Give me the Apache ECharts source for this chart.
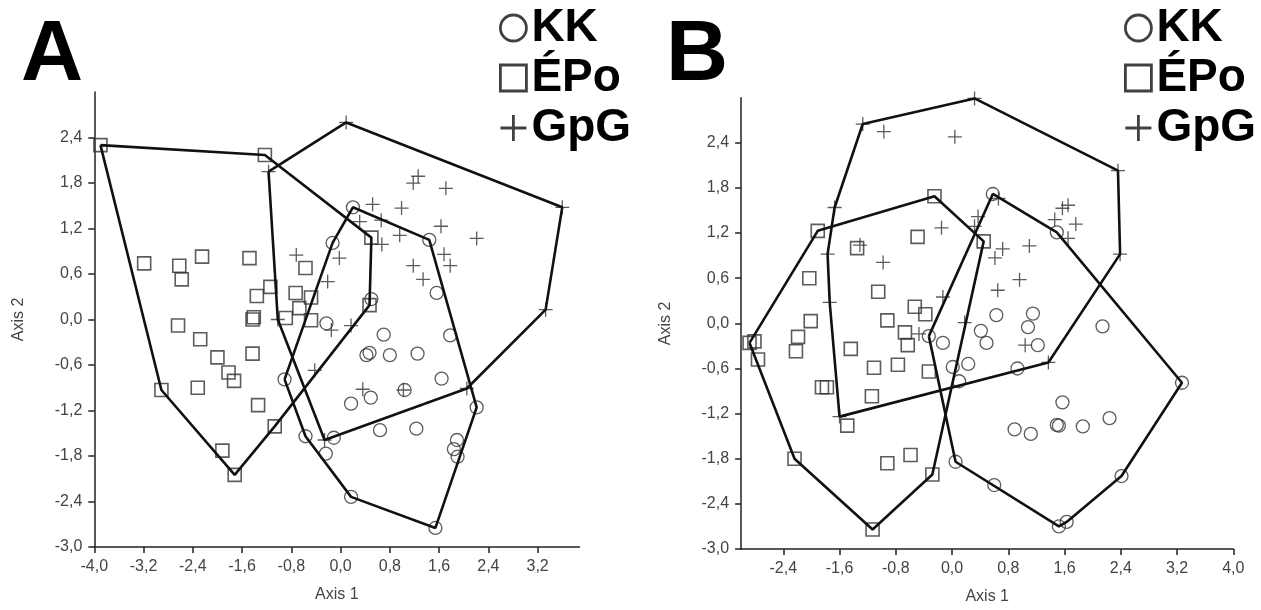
<!DOCTYPE html>
<html>
<head>
<meta charset="utf-8">
<script src="https://cdn.jsdelivr.net/npm/echarts@6/dist/echarts.min.js"></script>
<style>
  html, body { margin: 0; padding: 0; background: #fff; }
  #main { width: 1261px; height: 610px; }
</style>
</head>
<body>
<div id="main"></div>
<script>
// 刻度
var xTicksA = [-4.0, -3.2, -2.4, -1.6, -0.8, 0.0, 0.8, 1.6, 2.4, 3.2];
var xTicksB = [-2.4, -1.6, -0.8, 0.0, 0.8, 1.6, 2.4, 3.2, 4.0];
var yTicks = [-3.0, -2.4, -1.8, -1.2, -0.6, 0.0, 0.6, 1.2, 1.8, 2.4];
var groups = ['KK', 'ÉPo', 'GpG'];

// 图 A
var kkA = [
  [0.20, 1.48], [-0.13, 1.01], [1.44, 1.05], [1.56, 0.35], [0.50, 0.27], [-0.23, -0.05], [0.70, -0.20], [1.78, -0.21],
  [0.42, -0.47], [0.47, -0.44], [0.80, -0.47], [1.25, -0.45], [1.64, -0.78], [-0.91, -0.79], [0.49, -1.03], [0.17, -1.11],
  [1.04, -0.93], [2.21, -1.16], [0.64, -1.46], [1.23, -1.44], [-0.57, -1.54], [-0.11, -1.56], [-0.24, -1.77],
  [1.89, -1.59], [1.84, -1.71], [1.90, -1.81], [0.17, -2.34], [1.54, -2.75]
];
var epoA = [
  [-3.90, 2.30], [-1.23, 2.17], [-3.19, 0.74], [-2.62, 0.71], [-2.58, 0.53], [-2.25, 0.83], [-1.48, 0.81], [-0.57, 0.68],
  [-1.14, 0.43], [-1.36, 0.31], [-0.73, 0.35], [-0.48, 0.29], [-0.67, 0.15], [-1.41, 0.03], [-1.43, 0.00], [-0.89, 0.02],
  [-0.48, -0.01], [0.50, 1.08], [0.47, 0.19], [-2.64, -0.08], [-2.28, -0.26], [-2.00, -0.50], [-1.82, -0.70], [-1.73, -0.81],
  [-1.43, -0.45], [-2.91, -0.93], [-2.32, -0.90], [-1.34, -1.13], [-1.07, -1.41], [-1.92, -1.73], [-1.72, -2.05]
];
var gpgA = [
  [0.09, 2.60], [-1.17, 1.95], [3.60, 1.48], [3.33, 0.13], [1.26, 1.89], [1.18, 1.80], [1.71, 1.73], [0.52, 1.52], [0.99, 1.47],
  [0.31, 1.29], [0.66, 1.31], [0.96, 1.11], [0.67, 0.99], [1.63, 1.23], [2.21, 1.07], [1.68, 0.86], [1.78, 0.71], [1.18, 0.71],
  [1.34, 0.53], [-0.72, 0.85], [-0.02, 0.81], [-0.21, 0.50], [-1.02, 0.00], [-0.15, -0.14], [0.17, -0.08], [-0.42, -0.67],
  [0.36, -0.92], [1.02, -0.93], [2.05, -0.91], [-0.26, -1.59]
];

// 图 B
var kkB = [
  [0.58, 1.72], [1.49, 1.21], [2.14, -0.04], [0.63, 0.11], [1.15, 0.13], [1.08, -0.05], [0.41, -0.10], [0.49, -0.26],
  [-0.13, -0.26], [-0.33, -0.17], [1.22, -0.29], [0.23, -0.54], [0.01, -0.58], [0.10, -0.77], [0.93, -0.60], [3.27, -0.79],
  [1.57, -1.05], [0.89, -1.41], [1.12, -1.47], [1.49, -1.35], [1.52, -1.36], [1.86, -1.37], [2.24, -1.26], [0.05, -1.84],
  [0.60, -2.15], [1.52, -2.70], [1.63, -2.64], [2.41, -2.03]
];
var epoB = [
  [-1.91, 1.23], [-0.25, 1.69], [-0.49, 1.15], [0.45, 1.09], [-1.35, 1.00], [-2.03, 0.60], [-1.05, 0.42], [-2.01, 0.03],
  [-0.92, 0.04], [-0.53, 0.22], [-0.38, 0.12], [-0.67, -0.12], [-2.19, -0.18], [-2.88, -0.26], [-2.81, -0.24], [-2.76, -0.48],
  [-2.22, -0.37], [-1.44, -0.34], [-0.63, -0.29], [-1.11, -0.59], [-0.77, -0.55], [-0.33, -0.64], [-1.85, -0.85], [-1.78, -0.85],
  [-1.14, -0.97], [-1.49, -1.36], [-2.24, -1.80], [-1.13, -2.74], [-0.92, -1.86], [-0.59, -1.75], [-0.28, -2.01]
];
var gpgB = [
  [-1.27, 2.65], [-0.97, 2.55], [0.04, 2.48], [0.32, 2.99], [2.36, 2.03], [2.39, 0.92], [-1.67, 1.54], [-1.77, 0.92],
  [-1.74, 0.28], [-0.15, 1.27], [-1.31, 1.04], [-0.98, 0.81], [-0.13, 0.35], [-0.47, -0.14], [0.66, 1.66], [0.37, 1.42],
  [0.32, 1.29], [0.72, 0.99], [0.61, 0.87], [1.10, 1.03], [0.96, 0.58], [0.65, 0.44], [0.18, 0.01], [1.04, -0.29],
  [1.37, -0.52], [-1.60, -1.24], [1.65, 1.57], [1.57, 1.53], [1.46, 1.38], [1.76, 1.32], [1.65, 1.13]
];

var FONT = 'Liberation Sans, Arial, sans-serif';
var plusPath = 'path://M0,7L14,7M7,0L7,14';
var symbols = { 'KK': 'circle', 'ÉPo': 'rect', 'GpG': plusPath };

// 凸包 (monotone chain)
function convexHull(pts) {
  var p = pts.slice().sort(function(a, b) { return a[0] - b[0] || a[1] - b[1]; });
  function cross(o, a, b) { return (a[0] - o[0]) * (b[1] - o[1]) - (a[1] - o[1]) * (b[0] - o[0]); }
  var lower = [], upper = [];
  for (var i = 0; i < p.length; i++) {
    while (lower.length >= 2 && cross(lower[lower.length - 2], lower[lower.length - 1], p[i]) <= 0) lower.pop();
    lower.push(p[i]);
  }
  for (var j = p.length - 1; j >= 0; j--) {
    while (upper.length >= 2 && cross(upper[upper.length - 2], upper[upper.length - 1], p[j]) <= 0) upper.pop();
    upper.push(p[j]);
  }
  upper.pop(); lower.pop();
  var h = lower.concat(upper);
  h.push(h[0]);
  return h;
}

function fmt(v) { return v.toFixed(1).replace('.', ','); }

function xAxisOf(idx, min, max, ticks) {
  return {
    type: 'value', gridIndex: idx, min: min, max: max,
    name: 'Axis 1', nameLocation: 'middle', nameGap: 40,
    nameTextStyle: { color: '#444', fontSize: 16, fontFamily: FONT },
    axisLine: { onZero: false, lineStyle: { color: '#222', width: 1.5 } },
    axisTick: { customValues: ticks, length: 6, lineStyle: { color: '#222', width: 1.5 } },
    axisLabel: { customValues: ticks, formatter: fmt, color: '#444', fontSize: 16, fontFamily: FONT, margin: 12 },
    splitLine: { show: false }
  };
}
function yAxisOf(idx) {
  return {
    type: 'value', gridIndex: idx, min: -3, max: 3,
    name: 'Axis 2', nameLocation: 'middle', nameGap: 68,
    nameTextStyle: { color: '#444', fontSize: 16, fontFamily: FONT },
    axisLine: { onZero: false, lineStyle: { color: '#222', width: 1.5 } },
    axisTick: { customValues: yTicks, length: 6, lineStyle: { color: '#222', width: 1.5 } },
    axisLabel: { customValues: yTicks, formatter: fmt, color: '#444', fontSize: 16, fontFamily: FONT, margin: 12 },
    splitLine: { show: false }
  };
}

var series = [];
function addPanel(idx, sets) {
  groups.forEach(function(g, k) {
    series.push({
      type: 'line', name: g + ' hull', xAxisIndex: idx, yAxisIndex: idx,
      data: convexHull(sets[k]), symbol: 'none', silent: true, z: 3,
      lineStyle: { color: '#111', width: 2.6 }
    });
    series.push({
      type: 'scatter', name: g, xAxisIndex: idx, yAxisIndex: idx,
      data: sets[k], symbol: symbols[g], symbolSize: g === 'GpG' ? 14 : 13, silent: true, z: 2,
      itemStyle: { color: 'rgba(0,0,0,0)', borderColor: '#333', borderWidth: g === 'ÉPo' ? 1.6 : 1.3 }
    });
  });
}
addPanel(0, [kkA, epoA, gpgA]);
addPanel(1, [kkB, epoB, gpgB]);

function legendOf(left) {
  return {
    left: left, top: 0, orient: 'vertical', itemWidth: 26, itemHeight: 26, itemGap: 4,
    selectedMode: false,
    data: [
      { name: 'KK', icon: 'circle' },
      { name: 'ÉPo', icon: 'rect' },
      { name: 'GpG', icon: 'path://M0,13L26,13M13,0L13,26' }
    ],
    itemStyle: { color: 'rgba(0,0,0,0)', borderColor: '#111', borderWidth: 2.8 },
    textStyle: { color: '#000', fontSize: 46, fontWeight: 'bold', fontFamily: FONT, lineHeight: 40 }
  };
}

var myChart = echarts.init(document.getElementById('main'));
var option = {
  animation: false,
  backgroundColor: '#fff',
  title: [
    { text: 'A', left: 16, top: 8, textStyle: { fontSize: 86, fontWeight: 'bold', fontFamily: FONT, color: '#000', lineHeight: 86 } },
    { text: 'B', left: 661, top: 8, textStyle: { fontSize: 86, fontWeight: 'bold', fontFamily: FONT, color: '#000', lineHeight: 86 } }
  ],
  legend: [legendOf(494), legendOf(1119)],
  grid: [
    { left: 94.3, top: 92.1, width: 485.2, height: 454.8 },
    { left: 741.1, top: 97.7, width: 492.2, height: 451.6 }
  ],
  xAxis: [xAxisOf(0, -4, 3.88, xTicksA), xAxisOf(1, -3, 4, xTicksB)],
  yAxis: [yAxisOf(0), yAxisOf(1)],
  series: series
};
myChart.setOption(option);
</script>
</body>
</html>
